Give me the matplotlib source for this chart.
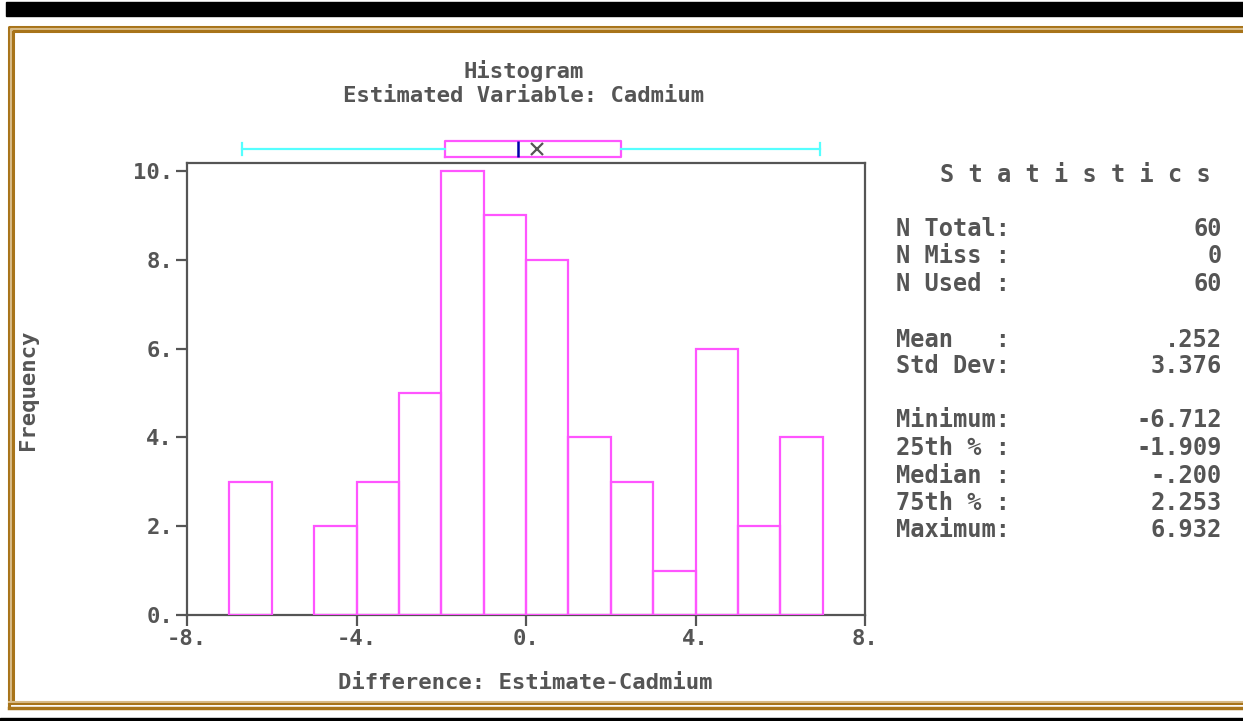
import matplotlib
matplotlib.use("Agg")
import matplotlib.pyplot as plt
from matplotlib.lines import Line2D
from matplotlib.patches import Rectangle

# histogram data: unit-width bins from -7 to 7
bin_edges = [-7, -6, -5, -4, -3, -2, -1, 0, 1, 2, 3, 4, 5, 6, 7]
counts = [3, 0, 2, 3, 5, 10, 9, 8, 4, 3, 1, 6, 2, 4]

x_ticks = [-8, -4, 0, 4, 8]
x_ticklabels = ["-8.", "-4.", "0.", "4.", "8."]
y_ticks = [0, 2, 4, 6, 8, 10]
y_ticklabels = ["0.", "2.", "4.", "6.", "8.", "10."]

# summary statistics
stat_labels = ["N Total:", "N Miss :", "N Used :", "", "Mean   :", "Std Dev:", "",
               "Minimum:", "25th % :", "Median :", "75th % :", "Maximum:"]
stat_values = ["60", "0", "60", "", ".252", "3.376", "",
               "-6.712", "-1.909", "-.200", "2.253", "6.932"]
mean, q1, median, q3, vmin, vmax = 0.252, -1.909, -0.200, 2.253, -6.712, 6.932

W, H = 1243, 721
GRAY = "#555555"
MAGENTA = "#ff55ff"
CYAN = "#55ffff"
GOLD = "#a8741a"
LIGHT_GOLD = "#d8bb88"

plt.rcParams["font.family"] = "DejaVu Sans Mono"
plt.rcParams["font.weight"] = "bold"
FS = 16

fig = plt.figure(figsize=(W / 100, H / 100), dpi=100)
fig.patch.set_facecolor("white")

def fx(px):
    return px / W

def fy(py):
    return 1 - py / H

# decorative frame
fig.patches.append(Rectangle((fx(6), fy(16)), fx(W - 6), 14 / H, transform=fig.transFigure,
                             color="black", zorder=0))
fig.patches.append(Rectangle((0, 0), 1, 3 / H, transform=fig.transFigure, color="black", zorder=0))
for off, col, lw in [(9, GOLD, 2.2), (11, LIGHT_GOLD, 1.5), (13, GOLD, 2.2)]:
    fig.add_artist(Line2D([fx(off), fx(off), 1], [fy(H - 16 + (off - 9) * -1), fy(27 + off - 9), fy(27 + off - 9)],
                          transform=fig.transFigure, color=col, lw=lw))
for yy, col, lw in [(702, LIGHT_GOLD, 1.5), (704, GOLD, 1.5), (708, GOLD, 2.5)]:
    fig.add_artist(Line2D([fx(9), 1], [fy(yy), fy(yy)], transform=fig.transFigure, color=col, lw=lw))

# histogram axes
left, right, top, bottom = 187, 865, 163, 615
ax = fig.add_axes([fx(left), fy(bottom), fx(right - left), (bottom - top) / H])
n, bins, patches = ax.hist(bin_edges[:-1], bins=bin_edges, weights=counts,
                           fill=False, edgecolor=MAGENTA, linewidth=1.6, zorder=3)
for p, c in zip(patches, counts):
    if c == 0:
        p.set_visible(False)
ax.set_xlim(-8, 8)
ax.set_ylim(0, 10 + 8 / 44.4)
ax.set_xticks(x_ticks)
ax.set_xticklabels(x_ticklabels)
ax.set_yticks(y_ticks)
ax.set_yticklabels(y_ticklabels)
ax.tick_params(direction="out", length=8, width=1.6, color=GRAY, labelcolor=GRAY,
               labelsize=FS, pad=2)
for s in ax.spines.values():
    s.set_color(GRAY)
    s.set_linewidth(1.6)

# box plot above the histogram
bax = fig.add_axes([fx(left), fy(163), fx(right - left), 28 / H], sharex=ax)
bstats = [dict(med=median, q1=q1, q3=q3, whislo=vmin, whishi=vmax, mean=mean, fliers=[])]
bax.bxp(bstats, orientation="horizontal", widths=0.6, capwidths=0.45, showmeans=True,
        boxprops=dict(color=MAGENTA, lw=1.6),
        whiskerprops=dict(color=CYAN, lw=1.6),
        capprops=dict(color=CYAN, lw=1.6),
        medianprops=dict(color="#0000aa", lw=1.8),
        meanprops=dict(marker="x", markeredgecolor=GRAY, markersize=9, markeredgewidth=1.6))
bax.set_ylim(0.5, 1.5)
bax.axis("off")

# titles and labels
fig.text(fx(524), fy(71), "Histogram", ha="center", va="center", color=GRAY, fontsize=FS)
fig.text(fx(524), fy(96), "Estimated Variable: Cadmium", ha="center", va="center",
         color=GRAY, fontsize=FS)
fig.text(fx(525), fy(683), "Difference: Estimate-Cadmium", ha="center", va="center",
         color=GRAY, fontsize=FS)
fig.text(fx(28), fy(390), "Frequency", ha="center", va="center", rotation=90,
         color=GRAY, fontsize=FS)

# statistics panel
SFS = 17
fig.text(fx(1075), fy(175), "S t a t i s t i c s", ha="center", va="center",
         color=GRAY, fontsize=SFS)
row_y = [229, 256, 284, None, 340, 366, None, 420, 448, 476, 503, 530]
for lab, val, yy in zip(stat_labels, stat_values, row_y):
    if yy is None:
        continue
    fig.text(fx(896), fy(yy), lab, ha="left", va="center", color=GRAY, fontsize=SFS)
    fig.text(fx(1222), fy(yy), val, ha="right", va="center", color=GRAY, fontsize=SFS)

fig.savefig("out.png", dpi=100, facecolor="white")
